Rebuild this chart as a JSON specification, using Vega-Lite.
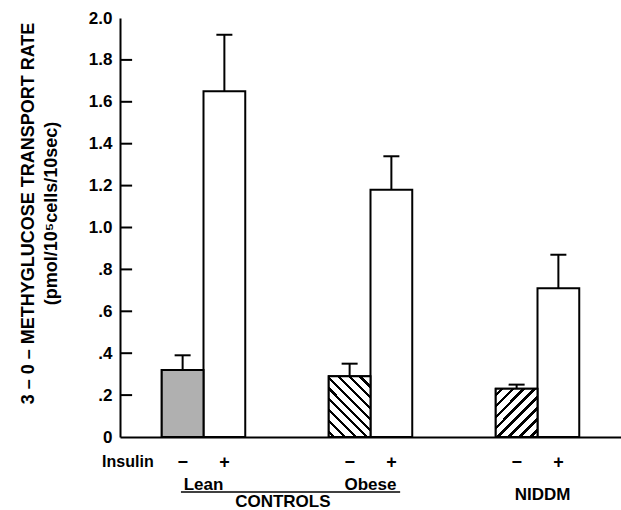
{
  "$schema": "https://vega.github.io/schema/vega-lite/v6.json",
  "width": 501,
  "height": 419,
  "autosize": {"type": "none"},
  "padding": {"left": 120, "top": 18, "right": 0, "bottom": 73},
  "background": "white",
  "config": {
    "font": "Liberation Sans",
    "view": {"stroke": null},
    "axis": {
      "labelFont": "Liberation Sans",
      "labelFontWeight": "bold",
      "labelColor": "black",
      "titleFont": "Liberation Sans",
      "titleFontWeight": "bold",
      "titleColor": "black",
      "domainColor": "black",
      "domainWidth": 2,
      "tickColor": "black",
      "tickWidth": 2
    }
  },
  "datasets": {
    "bars": [
      {"cat": "Lean-", "rate": 0.32, "upper": 0.39},
      {"cat": "Lean+", "rate": 1.65, "upper": 1.92},
      {"cat": "Obese-", "rate": 0.29, "upper": 0.35},
      {"cat": "Obese+", "rate": 1.18, "upper": 1.34},
      {"cat": "NIDDM-", "rate": 0.23, "upper": 0.25},
      {"cat": "NIDDM+", "rate": 0.71, "upper": 0.87}
    ],
    "labels": [
      {"cat": "Lean+", "label": "Lean", "kind": "sub"},
      {"cat": "Obese+", "label": "Obese", "kind": "sub"},
      {"cat": "NIDDM+", "label": "NIDDM", "kind": "niddm"},
      {"cat": "s1", "label": "CONTROLS", "kind": "main"}
    ],
    "underline": [
      {"cat": "Lean-", "cat2": "Obese+"}
    ],
    "yticks": [
      {"cat": "s0", "v": 0.2},
      {"cat": "s0", "v": 0.4},
      {"cat": "s0", "v": 0.6},
      {"cat": "s0", "v": 0.8},
      {"cat": "s0", "v": 1.0},
      {"cat": "s0", "v": 1.2},
      {"cat": "s0", "v": 1.4},
      {"cat": "s0", "v": 1.6},
      {"cat": "s0", "v": 1.8}
    ]
  },
  "layer": [
    {
      "data": {"name": "bars"},
      "mark": {"type": "bar", "fill": "white", "stroke": "black", "strokeWidth": 2},
      "encoding": {
        "x": {
          "field": "cat", "type": "nominal", "sort": null,
          "scale": {"domain": ["s0", "Lean-", "Lean+", "s1", "s2", "Obese-", "Obese+", "s3", "s4", "NIDDM-", "NIDDM+", "s5"], "paddingInner": 0, "paddingOuter": 0},
          "axis": {
            "title": null,
            "ticks": false,
            "domain": true,
            "labelAngle": 0,
            "labelOverlap": false,
            "labelPadding": 16,
            "labelFontSize": {"condition": {"test": "datum.value == 's0'", "value": 16}, "value": 18},
            "labelOffset": {"condition": {"test": "datum.value == 's0'", "value": -13}, "value": 0},
            "labelExpr": "datum.value == 's0' ? 'Insulin' : (indexof(datum.value, '-') >= 0 ? '−' : (indexof(datum.value, '+') >= 0 ? '+' : ''))"
          }
        },
        "y": {
          "field": "rate", "type": "quantitative",
          "scale": {"domain": [0, 2], "nice": false, "zero": true},
          "axis": {
            "values": [0, 0.2, 0.4, 0.6, 0.8, 1.0, 1.2, 1.4, 1.6, 1.8, 2.0],
            "labelExpr": "datum.value == 0 ? '0' : (datum.value < 1 ? replace(format(datum.value, '.1f'), '0.', '.') : format(datum.value, '.1f'))",
            "labelFontSize": 17,
            "labelPadding": 8,
            "ticks": false,
            "grid": false,
            "title": ["3 – 0 – METHYGLUCOSE TRANSPORT RATE", "(pmol/10⁵cells/10sec)"],
            "titleFontSize": 18,
            "titleLineHeight": 23,
            "titlePadding": 28,
            "titleY": 195
          }
        }
      }
    },
    {
      "data": {"name": "bars"},
      "transform": [{"filter": "datum.cat == 'Lean-'"}],
      "mark": {"type": "bar", "fill": "#b0b0b0", "stroke": "black", "strokeWidth": 2},
      "encoding": {
        "x": {"field": "cat", "type": "nominal", "sort": null, "scale": {"domain": ["s0", "Lean-", "Lean+", "s1", "s2", "Obese-", "Obese+", "s3", "s4", "NIDDM-", "NIDDM+", "s5"], "paddingInner": 0, "paddingOuter": 0}},
        "y": {"field": "rate", "type": "quantitative", "title": ["3 – 0 – METHYGLUCOSE TRANSPORT RATE", "(pmol/10⁵cells/10sec)"], "scale": {"domain": [0, 2], "nice": false, "zero": true}}
      }
    },
    {
      "data": {"name": "bars"},
      "transform": [{"filter": "datum.cat == 'Obese-'"}],
      "mark": {
        "type": "bar", "stroke": "black", "strokeWidth": 2,
        "fill": {
          "gradient": "linear", "x1": 0, "y1": 1, "x2": 0.789, "y2": -0.145,
          "stops": [
            {"offset": 0, "color": "white"},
            {"offset": 0.04, "color": "white"}, {"offset": 0.04, "color": "black"}, {"offset": 0.07, "color": "black"}, {"offset": 0.07, "color": "white"},
            {"offset": 0.145, "color": "white"}, {"offset": 0.145, "color": "black"}, {"offset": 0.175, "color": "black"}, {"offset": 0.175, "color": "white"},
            {"offset": 0.25, "color": "white"}, {"offset": 0.25, "color": "black"}, {"offset": 0.28, "color": "black"}, {"offset": 0.28, "color": "white"},
            {"offset": 0.355, "color": "white"}, {"offset": 0.355, "color": "black"}, {"offset": 0.385, "color": "black"}, {"offset": 0.385, "color": "white"},
            {"offset": 0.46, "color": "white"}, {"offset": 0.46, "color": "black"}, {"offset": 0.49, "color": "black"}, {"offset": 0.49, "color": "white"},
            {"offset": 0.565, "color": "white"}, {"offset": 0.565, "color": "black"}, {"offset": 0.595, "color": "black"}, {"offset": 0.595, "color": "white"},
            {"offset": 0.67, "color": "white"}, {"offset": 0.67, "color": "black"}, {"offset": 0.7, "color": "black"}, {"offset": 0.7, "color": "white"},
            {"offset": 0.775, "color": "white"}, {"offset": 0.775, "color": "black"}, {"offset": 0.805, "color": "black"}, {"offset": 0.805, "color": "white"},
            {"offset": 0.88, "color": "white"}, {"offset": 0.88, "color": "black"}, {"offset": 0.91, "color": "black"}, {"offset": 0.91, "color": "white"},
            {"offset": 1, "color": "white"}
          ]
        }
      },
      "encoding": {
        "x": {"field": "cat", "type": "nominal", "sort": null, "scale": {"domain": ["s0", "Lean-", "Lean+", "s1", "s2", "Obese-", "Obese+", "s3", "s4", "NIDDM-", "NIDDM+", "s5"], "paddingInner": 0, "paddingOuter": 0}},
        "y": {"field": "rate", "type": "quantitative", "title": ["3 – 0 – METHYGLUCOSE TRANSPORT RATE", "(pmol/10⁵cells/10sec)"], "scale": {"domain": [0, 2], "nice": false, "zero": true}}
      }
    },
    {
      "data": {"name": "bars"},
      "transform": [{"filter": "datum.cat == 'NIDDM-'"}],
      "mark": {
        "type": "bar", "stroke": "black", "strokeWidth": 2,
        "fill": {
          "gradient": "linear", "x1": 0, "y1": 0, "x2": 0.925, "y2": 1.065,
          "stops": [
            {"offset": 0, "color": "white"},
            {"offset": 0.05, "color": "white"}, {"offset": 0.05, "color": "black"}, {"offset": 0.085, "color": "black"}, {"offset": 0.085, "color": "white"},
            {"offset": 0.172, "color": "white"}, {"offset": 0.172, "color": "black"}, {"offset": 0.207, "color": "black"}, {"offset": 0.207, "color": "white"},
            {"offset": 0.294, "color": "white"}, {"offset": 0.294, "color": "black"}, {"offset": 0.329, "color": "black"}, {"offset": 0.329, "color": "white"},
            {"offset": 0.416, "color": "white"}, {"offset": 0.416, "color": "black"}, {"offset": 0.451, "color": "black"}, {"offset": 0.451, "color": "white"},
            {"offset": 0.538, "color": "white"}, {"offset": 0.538, "color": "black"}, {"offset": 0.573, "color": "black"}, {"offset": 0.573, "color": "white"},
            {"offset": 0.66, "color": "white"}, {"offset": 0.66, "color": "black"}, {"offset": 0.695, "color": "black"}, {"offset": 0.695, "color": "white"},
            {"offset": 0.782, "color": "white"}, {"offset": 0.782, "color": "black"}, {"offset": 0.817, "color": "black"}, {"offset": 0.817, "color": "white"},
            {"offset": 0.904, "color": "white"}, {"offset": 0.904, "color": "black"}, {"offset": 0.939, "color": "black"}, {"offset": 0.939, "color": "white"},
            {"offset": 1, "color": "white"}
          ]
        }
      },
      "encoding": {
        "x": {"field": "cat", "type": "nominal", "sort": null, "scale": {"domain": ["s0", "Lean-", "Lean+", "s1", "s2", "Obese-", "Obese+", "s3", "s4", "NIDDM-", "NIDDM+", "s5"], "paddingInner": 0, "paddingOuter": 0}},
        "y": {"field": "rate", "type": "quantitative", "title": ["3 – 0 – METHYGLUCOSE TRANSPORT RATE", "(pmol/10⁵cells/10sec)"], "scale": {"domain": [0, 2], "nice": false, "zero": true}}
      }
    },
    {
      "data": {"name": "bars"},
      "mark": {"type": "rule", "color": "black", "strokeWidth": 2},
      "encoding": {
        "x": {"field": "cat", "type": "nominal", "sort": null, "scale": {"domain": ["s0", "Lean-", "Lean+", "s1", "s2", "Obese-", "Obese+", "s3", "s4", "NIDDM-", "NIDDM+", "s5"], "paddingInner": 0, "paddingOuter": 0}},
        "y": {"field": "rate", "type": "quantitative", "title": ["3 – 0 – METHYGLUCOSE TRANSPORT RATE", "(pmol/10⁵cells/10sec)"], "scale": {"domain": [0, 2], "nice": false, "zero": true}},
        "y2": {"field": "upper"}
      }
    },
    {
      "data": {"name": "bars"},
      "mark": {"type": "tick", "color": "black", "size": 16, "thickness": 2, "opacity": 1},
      "encoding": {
        "x": {"field": "cat", "type": "nominal", "sort": null, "scale": {"domain": ["s0", "Lean-", "Lean+", "s1", "s2", "Obese-", "Obese+", "s3", "s4", "NIDDM-", "NIDDM+", "s5"], "paddingInner": 0, "paddingOuter": 0}},
        "y": {"field": "upper", "type": "quantitative", "title": ["3 – 0 – METHYGLUCOSE TRANSPORT RATE", "(pmol/10⁵cells/10sec)"], "scale": {"domain": [0, 2], "nice": false, "zero": true}}
      }
    },
    {
      "data": {"name": "yticks"},
      "mark": {"type": "rule", "color": "black", "strokeWidth": 2},
      "encoding": {
        "x": {"field": "cat", "type": "nominal", "sort": null, "bandPosition": 0, "scale": {"domain": ["s0", "Lean-", "Lean+", "s1", "s2", "Obese-", "Obese+", "s3", "s4", "NIDDM-", "NIDDM+", "s5"], "paddingInner": 0, "paddingOuter": 0}},
        "x2": {"field": "cat", "bandPosition": 0.29},
        "y": {"field": "v", "type": "quantitative", "title": ["3 – 0 – METHYGLUCOSE TRANSPORT RATE", "(pmol/10⁵cells/10sec)"], "scale": {"domain": [0, 2], "nice": false, "zero": true}}
      }
    },
    {
      "mark": {"type": "rule", "color": "black", "strokeWidth": 2},
      "encoding": {
        "y": {"datum": 2, "type": "quantitative", "scale": {"domain": [0, 2], "nice": false, "zero": true}}
      }
    },
    {
      "data": {"name": "labels"},
      "transform": [{"filter": "datum.kind == 'sub'"}],
      "mark": {"type": "text", "align": "center", "baseline": "alphabetic", "dy": 53, "fontSize": 17, "fontWeight": "bold", "font": "Liberation Sans", "color": "black"},
      "encoding": {
        "x": {"field": "cat", "type": "nominal", "sort": null, "bandPosition": 0, "scale": {"domain": ["s0", "Lean-", "Lean+", "s1", "s2", "Obese-", "Obese+", "s3", "s4", "NIDDM-", "NIDDM+", "s5"], "paddingInner": 0, "paddingOuter": 0}},
        "y": {"datum": 0, "type": "quantitative", "scale": {"domain": [0, 2], "nice": false, "zero": true}},
        "text": {"field": "label"}
      }
    },
    {
      "data": {"name": "labels"},
      "transform": [{"filter": "datum.kind == 'niddm'"}],
      "mark": {"type": "text", "align": "center", "baseline": "alphabetic", "dy": 63, "fontSize": 17, "fontWeight": "bold", "font": "Liberation Sans", "color": "black"},
      "encoding": {
        "x": {"field": "cat", "type": "nominal", "sort": null, "bandPosition": 0.12, "scale": {"domain": ["s0", "Lean-", "Lean+", "s1", "s2", "Obese-", "Obese+", "s3", "s4", "NIDDM-", "NIDDM+", "s5"], "paddingInner": 0, "paddingOuter": 0}},
        "y": {"datum": 0, "type": "quantitative", "scale": {"domain": [0, 2], "nice": false, "zero": true}},
        "text": {"field": "label"}
      }
    },
    {
      "data": {"name": "labels"},
      "transform": [{"filter": "datum.kind == 'main'"}],
      "mark": {"type": "text", "align": "center", "baseline": "alphabetic", "dy": 70, "fontSize": 17, "fontWeight": "bold", "font": "Liberation Sans", "color": "black"},
      "encoding": {
        "x": {"field": "cat", "type": "nominal", "sort": null, "bandPosition": 0.9, "scale": {"domain": ["s0", "Lean-", "Lean+", "s1", "s2", "Obese-", "Obese+", "s3", "s4", "NIDDM-", "NIDDM+", "s5"], "paddingInner": 0, "paddingOuter": 0}},
        "y": {"datum": 0, "type": "quantitative", "scale": {"domain": [0, 2], "nice": false, "zero": true}},
        "text": {"field": "label"}
      }
    },
    {
      "data": {"name": "underline"},
      "mark": {"type": "rule", "color": "black", "strokeWidth": 1.5, "yOffset": 55},
      "encoding": {
        "x": {"field": "cat", "type": "nominal", "sort": null, "bandPosition": 0.46, "scale": {"domain": ["s0", "Lean-", "Lean+", "s1", "s2", "Obese-", "Obese+", "s3", "s4", "NIDDM-", "NIDDM+", "s5"], "paddingInner": 0, "paddingOuter": 0}},
        "x2": {"field": "cat2", "bandPosition": 0.71},
        "y": {"datum": 0, "type": "quantitative", "scale": {"domain": [0, 2], "nice": false, "zero": true}}
      }
    }
  ]
}
